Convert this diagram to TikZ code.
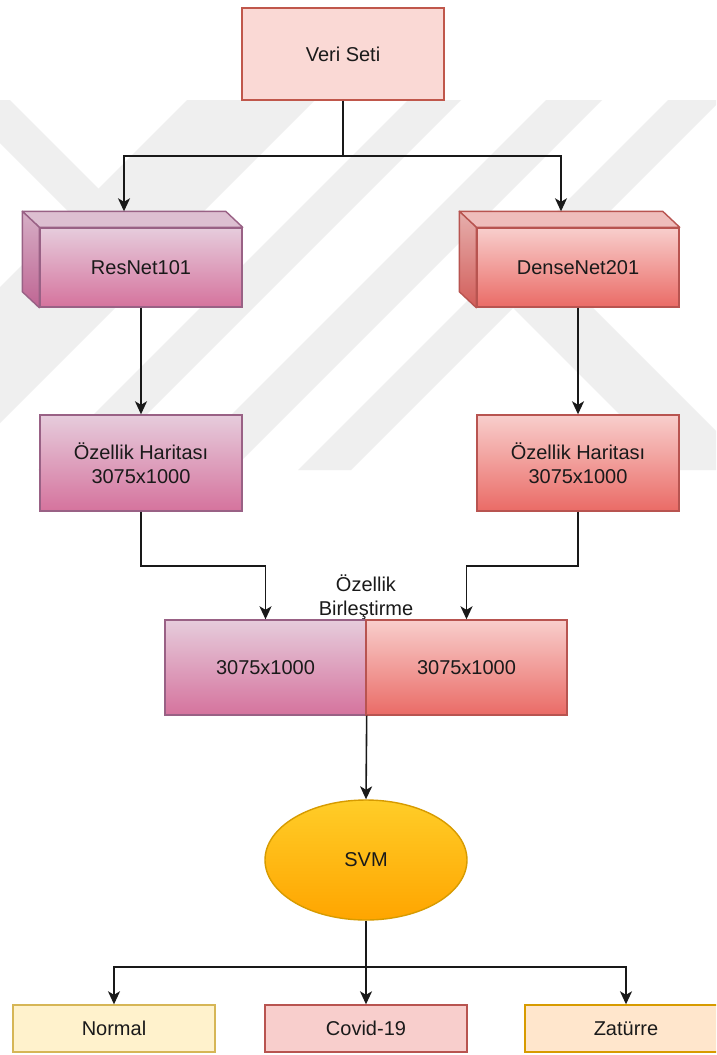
\documentclass[tikz,border=0pt]{standalone}
\usepackage{fontspec}
\setmainfont{Liberation Sans}
\usetikzlibrary{arrows.meta,shapes.geometric,calc}

\definecolor{wmgray}{HTML}{EFEFEF}
\definecolor{inkText}{HTML}{1A1A1A}
\definecolor{dataFill}{HTML}{FAD9D5}
\definecolor{dataLine}{HTML}{C0574B}
\definecolor{resTop}{HTML}{E6CCDC}
\definecolor{resBot}{HTML}{D5739D}
\definecolor{resSideTop}{HTML}{D6AFC6}
\definecolor{resSideBot}{HTML}{BF6593}
\definecolor{resCap}{HTML}{DDBFD1}
\definecolor{resLine}{HTML}{996185}
\definecolor{denTop}{HTML}{F8CECC}
\definecolor{denBot}{HTML}{EA6B66}
\definecolor{denSideTop}{HTML}{E6AFAD}
\definecolor{denSideBot}{HTML}{D25D59}
\definecolor{denCap}{HTML}{EFBDBB}
\definecolor{denLine}{HTML}{B85450}
\definecolor{svmTop}{HTML}{FFCD28}
\definecolor{svmBot}{HTML}{FFA500}
\definecolor{svmLine}{HTML}{D79B00}
\definecolor{normFill}{HTML}{FFF2CC}
\definecolor{normLine}{HTML}{D6B656}
\definecolor{covFill}{HTML}{F8CECC}
\definecolor{covLine}{HTML}{B85450}
\definecolor{pneuFill}{HTML}{FFE6CC}
\definecolor{pneuLine}{HTML}{D79B00}

\tikzset{
  box/.style={draw, line width=1.4pt, inner sep=0pt, align=center,
    text=inkText, font=\fontsize{20}{23.5}\selectfont},
  resfill/.style={top color=resTop, bottom color=resBot, draw=resLine},
  denfill/.style={top color=denTop, bottom color=denBot, draw=denLine},
  face/.style={line width=1.4pt, line join=round},
  wire/.style={line width=1.6pt, draw=black!90},
  link/.style={wire, -{Stealth[length=13pt,width=12pt,inset=3.5pt]}},
  band/.style={fill=wmgray},
}

\begin{document}
\begin{tikzpicture}[x=1pt,y=-1pt]
\useasboundingbox (0,0) rectangle (716,1055);
\fill[white] (0,0) rectangle (716,1055);

% faint diagonal stripes in the background
\begin{scope}
  \clip (0,100) rectangle (716,470);
  % chevron on the left edge
  \fill[band] (-43,100) -- (10,100) -- (166.5,256.5) -- (-47,470) -- (-100,470)
    -- (113.5,256.5) -- cycle;
  % rising stripes (constant x+y)
  \fill[band] (187,100) -- (315,100) -- (-55,470) -- (-183,470) -- cycle;
  \fill[band] (408,100) -- (461,100) -- (91,470) -- (38,470) -- cycle;
  \fill[band] (546,100) -- (602,100) -- (232,470) -- (176,470) -- cycle;
  \fill[band] (668,100) -- (721,100) -- (351,470) -- (298,470) -- cycle;
  % falling stripe (constant x-y)
  \fill[band] (486.5,281.5) -- (526.5,241.5) -- (755,470) -- (675,470) -- cycle;
\end{scope}

% input data
\node[box, fill=dataFill, draw=dataLine, minimum width=202pt, minimum height=92pt]
  (data) at (343,54) {Veri Seti};

% ResNet101 block (front face plus top and side faces)
\node[box, resfill, minimum width=202pt, minimum height=79pt] (res) at (141,267.5) {ResNet101};
\fill[resCap, draw=resLine, face] (res.north west) -- ++(-17,-16)
  -- ($(res.north east)+(-17,-16)$) -- (res.north east) -- cycle;
\shade[top color=resSideTop, bottom color=resSideBot] (res.north west) -- ++(-17,-16)
  -- ($(res.south west)+(-17,-16)$) -- (res.south west) -- cycle;
\draw[resLine, face] (res.north west) -- ++(-17,-16)
  -- ($(res.south west)+(-17,-16)$) -- (res.south west) -- cycle;
\coordinate (resin) at ($(res.north)+(-17,-16)$);

% DenseNet201 block
\node[box, denfill, minimum width=202pt, minimum height=79pt] (den) at (578,267.5) {DenseNet201};
\fill[denCap, draw=denLine, face] (den.north west) -- ++(-17,-16)
  -- ($(den.north east)+(-17,-16)$) -- (den.north east) -- cycle;
\shade[top color=denSideTop, bottom color=denSideBot] (den.north west) -- ++(-17,-16)
  -- ($(den.south west)+(-17,-16)$) -- (den.south west) -- cycle;
\draw[denLine, face] (den.north west) -- ++(-17,-16)
  -- ($(den.south west)+(-17,-16)$) -- (den.south west) -- cycle;
\coordinate (denin) at ($(den.north)+(-17,-16)$);

% feature maps
\node[box, resfill, minimum width=202pt, minimum height=96pt] (resmap) at (141,463)
  {Özellik Haritası\\3075x1000};
\node[box, denfill, minimum width=202pt, minimum height=96pt] (denmap) at (578,463)
  {Özellik Haritası\\3075x1000};

% concatenated features
\node[text=inkText, font=\fontsize{20}{23.5}\selectfont, align=center] (fuse) at (366,597)
  {Özellik\\Birleştirme};
\node[box, resfill, minimum width=201pt, minimum height=95pt] (catl) at (265.5,667.5) {3075x1000};
\node[box, denfill, minimum width=201pt, minimum height=95pt] (catr) at (466.5,667.5) {3075x1000};

% classifier
\node[box, ellipse, top color=svmTop, bottom color=svmBot, draw=svmLine,
  minimum width=202pt, minimum height=120pt] (svm) at (366,860) {SVM};

% output classes
\begin{scope}
  \clip (0,990) rectangle (716,1055);
  \node[box, fill=normFill, draw=normLine, minimum width=202pt, minimum height=47pt]
    (normal) at (114,1028.5) {Normal};
  \node[box, fill=covFill, draw=covLine, minimum width=202pt, minimum height=47pt]
    (covid) at (366,1028.5) {Covid-19};
  \node[box, fill=pneuFill, draw=pneuLine, minimum width=202pt, minimum height=47pt]
    (pneu) at (626,1028.5) {Zatürre};
\end{scope}

% connectors
\draw[wire] (data.south) -- ++(0,55) coordinate (split);
\draw[link] (split) -| (resin);
\draw[link] (split) -| (denin);
\draw[link] (res.south) -- (resmap.north);
\draw[link] (den.south) -- (denmap.north);
\draw[link] (resmap.south) -- ++(0,54) -| (catl.north);
\draw[link] (denmap.south) -- ++(0,54) -| (catr.north);
\draw[link] (catl.south east) -- (svm.north);
\draw[wire] (svm.south) -- ++(0,46) coordinate (fan);
\draw[link] (fan) -| (normal.north);
\draw[link] (fan) -- (covid.north);
\draw[link] (fan) -| (pneu.north);
\end{tikzpicture}
\end{document}
